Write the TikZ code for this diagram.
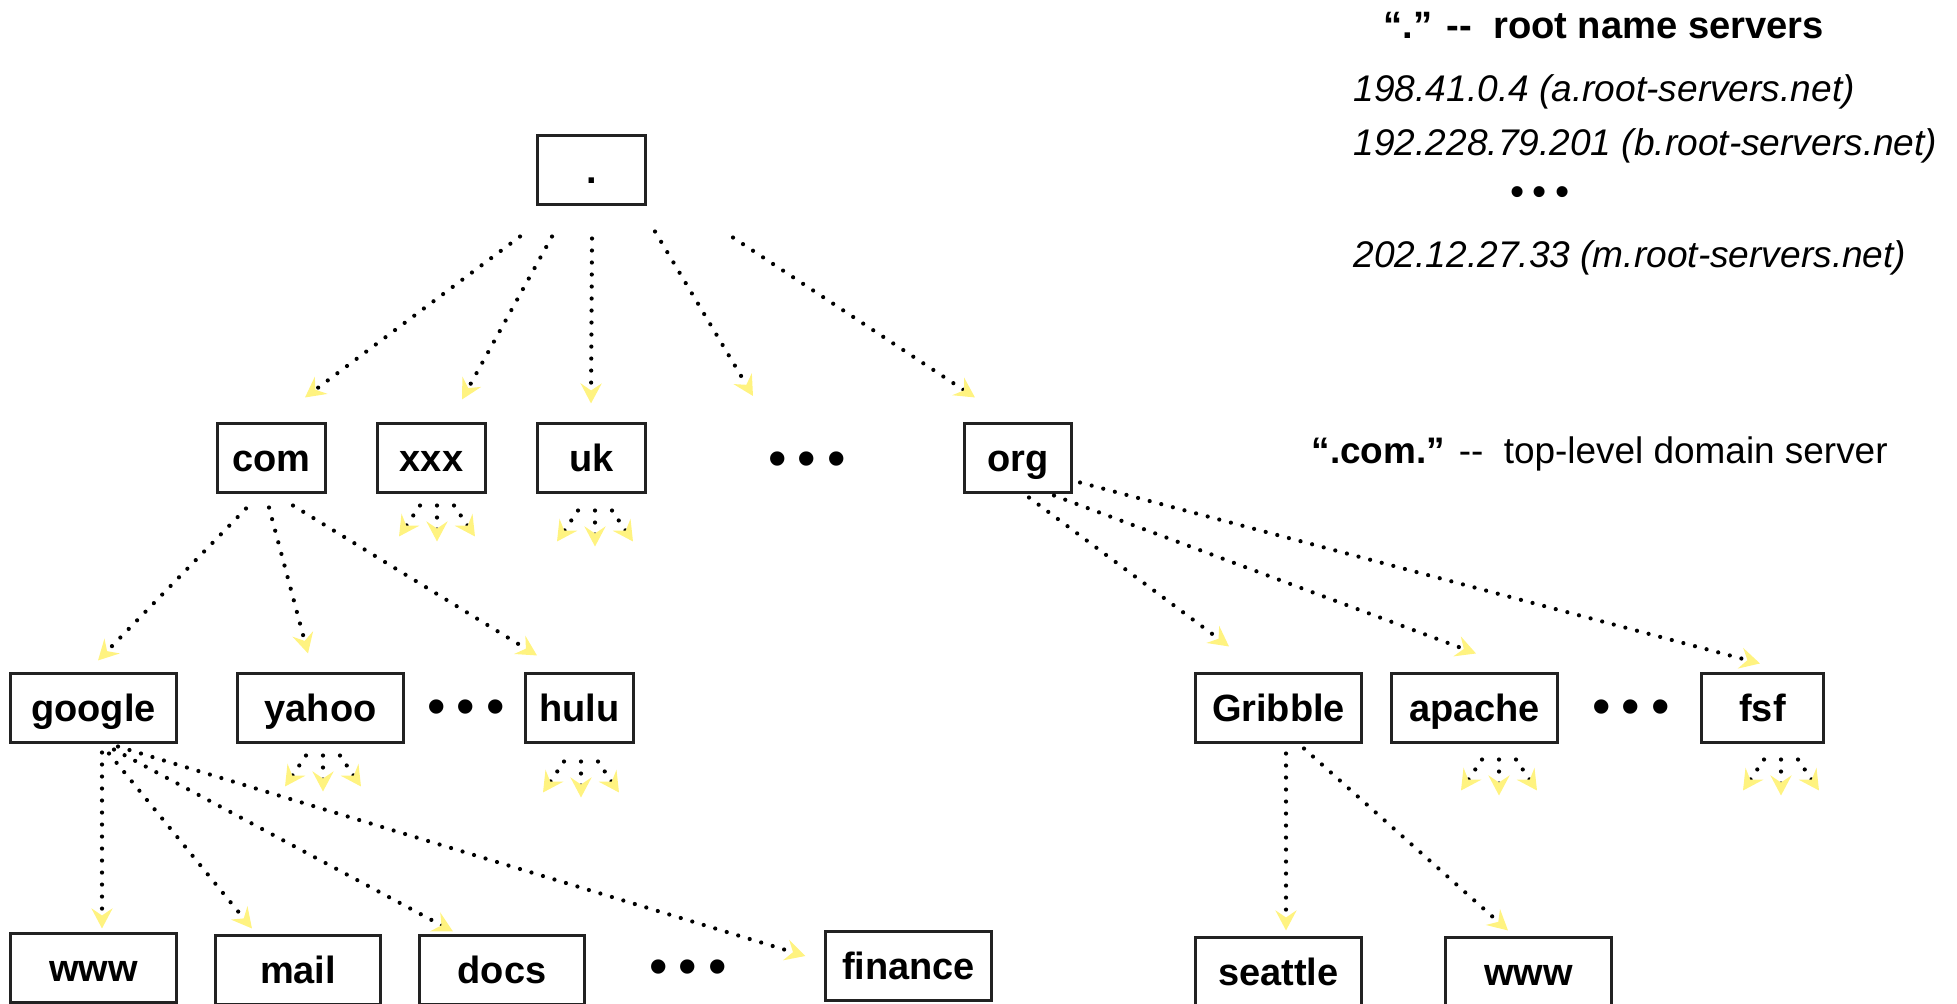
\documentclass[tikz,border=0pt]{standalone}
\usepackage{fontspec}
\setmainfont{Liberation Sans}
\usetikzlibrary{arrows.meta,calc}
\definecolor{tipyellow}{RGB}{255,243,128}
\definecolor{boxline}{RGB}{34,34,34}
\tikzset{
  dom/.style={draw=boxline, line width=0.03cm, inner sep=0pt, minimum height=0.68cm,
    text height=0.27cm, text depth=0pt, font=\fontsize{10.8pt}{13pt}\selectfont\bfseries},
  smallbox/.style={dom, minimum width=1.07cm},
  widebox/.style={dom, minimum width=1.65cm},
  ellip/.style={inner sep=0pt, font=\fontsize{15pt}{17pt}\selectfont},
  ellipsmall/.style={inner sep=0pt, font=\fontsize{11.5pt}{13pt}\selectfont},
  txt/.style={anchor=base west, inner sep=0pt},
  link/.style={line width=0.042cm, dash pattern=on 0pt off 0.12cm, line cap=round,
    -{Stealth[length=0.2cm, width=0.21cm, inset=0.07cm, color=tipyellow, fill=tipyellow]}},
}
\newcommand{\dnsfan}[4]{%
  \coordinate (#4) at ($(#1.south)+(#2,#3)$);
  \draw[link] (#4) -- ($(#4)+(0,36)$);
  \draw[link] ($(#4)+(-17,0)$) -- ($(#4)+(-38,31)$);
  \draw[link] ($(#4)+(17,0)$) -- ($(#4)+(38,31)$);
}
\newcommand{\bigdots}{•\hspace{0.11cm}•\hspace{0.11cm}•}
\begin{document}
\begin{tikzpicture}[x=0.01cm,y=-0.01cm]
\useasboundingbox (0,0) rectangle (1957,1004);

% level 0
\node[smallbox] (root) at (591.5,170) {.};
% level 1
\node[smallbox] (com) at (271.5,458) {com};
\node[smallbox] (xxx) at (431.5,458) {xxx};
\node[smallbox] (uk) at (591.5,458) {uk};
\node[ellip] (e1) at (807,464) {\bigdots};
\node[smallbox] (org) at (1018,458) {org};
% level 2
\node[widebox] (google) at (93.5,708) {google};
\node[widebox] (yahoo) at (320.5,708) {yahoo};
\node[ellip] (e2) at (466,712) {\bigdots};
\node[smallbox] (hulu) at (579.5,708) {hulu};
\node[widebox] (gribble) at (1278.5,708) {Gribble};
\node[widebox] (apache) at (1474.5,708) {apache};
\node[ellip] (e3) at (1631,712) {\bigdots};
\node[dom, minimum width=1.21cm] (fsf) at (1762.5,708) {fsf};
% level 3
\node[widebox] (www1) at (93.5,968) {www};
\node[widebox] (mail) at (298,970) {mail};
\node[widebox] (docs) at (502,970) {docs};
\node[ellip] (e4) at (688,972) {\bigdots};
\node[widebox] (finance) at (908.5,966) {finance};
\node[widebox] (seattle) at (1278.5,972) {seattle};
\node[widebox] (www2) at (1528.5,972) {www};

% right-hand texts
\node[txt, font=\fontsize{10.85pt}{13pt}\selectfont\bfseries] (title) at (1383,39) {“.” -{}-\ \ root name servers};
\node[txt, font=\fontsize{10.55pt}{13pt}\selectfont\itshape] (ip1) at (1353,102) {198.41.0.4 (a.root-servers.net)};
\node[txt, font=\fontsize{10.55pt}{13pt}\selectfont\itshape] (ip2) at (1353,156) {192.228.79.201 (b.root-servers.net)};
\node[ellipsmall] (ipd) at (1540,196) {•\hspace{0.08cm}•\hspace{0.08cm}•};
\node[txt, font=\fontsize{10.55pt}{13pt}\selectfont\itshape] (ip3) at (1353,268) {202.12.27.33 (m.root-servers.net)};
\node[txt, font=\fontsize{10.5pt}{13pt}\selectfont] (tld) at (1311,464) {\textbf{“.com.”} -{}-\ \ top-level domain server};

% root -> TLDs
\draw[link] ($(root.south)+(-71.5,31)$) -- ($(com.north)+(33.5,-25)$);
\draw[link] ($(root.south)+(-39.5,31)$) -- ($(xxx.north)+(30.5,-23)$);
\draw[link] ($(root.south)+(0.5,33)$) -- ($(uk.north)+(-0.5,-19)$);
\draw[link] ($(root.south)+(63.5,26)$) -- ($(e1.center)+(-54,-68)$);
\draw[link] ($(root.south)+(141.5,32)$) -- ($(org.north)+(-43,-25)$);
% com -> children
\draw[link] ($(com.south)+(-25.5,15)$) -- ($(google.north)+(4.5,-12)$);
\draw[link] ($(com.south)+(-2.5,14)$) -- ($(yahoo.north)+(-12.5,-19)$);
\draw[link] ($(com.south)+(21.5,12)$) -- ($(hulu.north)+(-42.5,-17)$);
% google -> children
\draw[link] ($(google.south)+(8.5,9)$) -- ($(www1.north)+(8.5,-4)$);
\draw[link] ($(google.south)+(15.5,10)$) -- ($(mail.north)+(-46,-6)$);
\draw[link] ($(google.south)+(20.5,6)$) -- ($(docs.north)+(-49,-3)$);
\draw[link] ($(google.south)+(24.5,3)$) -- ($(finance.west)+(-19,-10)$);
% org -> children
\draw[link] ($(org.south)+(11,4)$) -- ($(gribble.north)+(-49.5,-26)$);
\draw[link] ($(org.south)+(36,2)$) -- ($(apache.north)+(1.5,-19)$);
\draw[link] ($(org.south east)+(7,-11)$) -- ($(fsf.north)+(-2.5,-9)$);
% Gribble -> children
\draw[link] ($(gribble.south)+(7.5,10)$) -- ($(seattle.north)+(7.5,-6)$);
\draw[link] ($(gribble.south)+(25.5,5)$) -- ($(www2.north)+(-20.5,-6)$);

% fans
\dnsfan{xxx}{5.5}{12}{fxxx}
\dnsfan{uk}{3.5}{17}{fuk}
\dnsfan{yahoo}{2.5}{12}{fyahoo}
\dnsfan{hulu}{1.5}{18}{fhulu}
\dnsfan{apache}{24.5}{16}{fapache}
\dnsfan{fsf}{18.5}{16}{ffsf}
\end{tikzpicture}
\end{document}
